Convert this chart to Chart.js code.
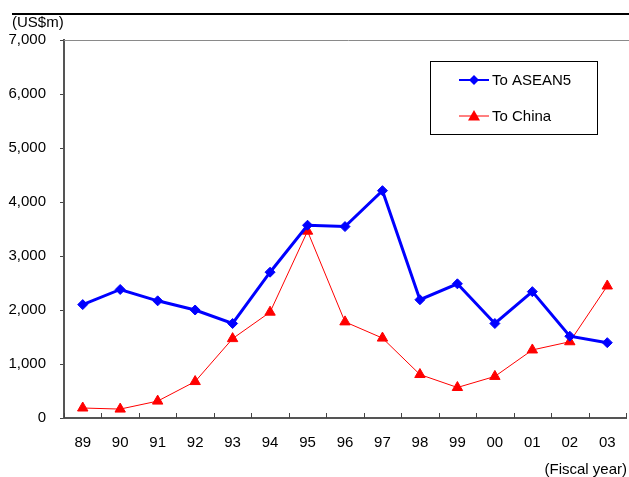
<!DOCTYPE html>
<html>
<head>
<meta charset="utf-8">
<script src="https://cdn.jsdelivr.net/npm/chart.js@4/dist/chart.umd.min.js"></script>
<style>
  html, body { margin: 0; padding: 0; overflow: hidden; background: #fff; }
  #wrap { width: 633px; height: 477px; }
</style>
</head>
<body>
<div id="wrap"><canvas id="c" width="633" height="477"></canvas></div>
<script>
// Fiscal years and outward investment (US$m)
const years = ['89','90','91','92','93','94','95','96','97','98','99','00','01','02','03'];
const toAsean5 = [2100, 2380, 2170, 2000, 1750, 2700, 3570, 3545, 4210, 2190, 2485, 1750, 2340, 1515, 1395];
const toChina  = [185, 165, 313, 675, 1470, 1960, 3460, 1780, 1480, 805, 565, 770, 1260, 1412, 2445];
const yTicks = [0, 1000, 2000, 3000, 4000, 5000, 6000, 7000];
const seriesNames = ['To ASEAN5', 'To China'];

const FONT = 'Liberation Sans, Arial, sans-serif';
const FSIZE = 15;

const decor = {
  id: 'decor',
  afterDraw(chart) {
    const ctx = chart.ctx;
    const area = chart.chartArea;
    const xs = chart.scales.x;
    ctx.save();
    // heavy rule above the chart
    ctx.strokeStyle = '#000';
    ctx.lineWidth = 2;
    ctx.beginPath(); ctx.moveTo(12, 14); ctx.lineTo(633, 14); ctx.stroke();
    // plot top frame
    ctx.strokeStyle = '#8a8a8a';
    ctx.lineWidth = 1;
    ctx.beginPath(); ctx.moveTo(area.left, area.top + 0.5); ctx.lineTo(633, area.top + 0.5); ctx.stroke();
    // inward tick marks at category boundaries
    ctx.strokeStyle = '#444';
    ctx.lineWidth = 1;
    for (let i = 0; i <= years.length; i++) {
      const x = Math.round(xs.getPixelForValue(i - 0.5)) + 0.5;
      ctx.beginPath(); ctx.moveTo(x, area.bottom); ctx.lineTo(x, area.bottom - 5); ctx.stroke();
    }
    // unit and axis captions
    ctx.fillStyle = '#000';
    ctx.font = FSIZE + 'px ' + FONT;
    ctx.textBaseline = 'middle';
    ctx.textAlign = 'left';
    ctx.fillText('(US$m)', 12, 23);
    ctx.textAlign = 'right';
    ctx.fillText('(Fiscal year)', 627, 470);
    // legend box
    const lx = 430, ly = 61, lw = 167, lh = 73;
    ctx.strokeStyle = '#000';
    ctx.lineWidth = 1;
    ctx.strokeRect(lx + 0.5, ly + 0.5, lw, lh);
    const rows = [
      { y: 80, ds: chart.data.datasets[0], lineW: 2 },
      { y: 116, ds: chart.data.datasets[1], lineW: 1 }
    ];
    rows.forEach((r, idx) => {
      ctx.strokeStyle = r.ds.borderColor;
      ctx.lineWidth = r.lineW;
      ctx.beginPath(); ctx.moveTo(459, r.y); ctx.lineTo(489, r.y); ctx.stroke();
      ctx.fillStyle = r.ds.pointBackgroundColor;
      ctx.beginPath();
      const s = r.ds.pointRadius;
      if (r.ds.pointStyle === 'triangle') {
        ctx.moveTo(474, r.y - s); ctx.lineTo(474 + s, r.y + s * 0.75); ctx.lineTo(474 - s, r.y + s * 0.75);
      } else {
        ctx.moveTo(474, r.y - s); ctx.lineTo(474 + s, r.y); ctx.lineTo(474, r.y + s); ctx.lineTo(474 - s, r.y);
      }
      ctx.closePath(); ctx.fill();
      ctx.fillStyle = '#000';
      ctx.textAlign = 'left';
      ctx.textBaseline = 'middle';
      ctx.font = FSIZE + 'px ' + FONT;
      ctx.fillText(seriesNames[idx], 492, r.y + 1);
    });
    ctx.restore();
  }
};

new Chart(document.getElementById('c'), {
  type: 'line',
  data: {
    labels: years,
    datasets: [
      {
        label: seriesNames[0],
        data: toAsean5,
        borderColor: '#0000ff',
        backgroundColor: '#0000ff',
        borderWidth: 3,
        pointStyle: 'rectRot',
        pointRadius: 5,
        pointBackgroundColor: '#0000ff',
        pointBorderColor: '#0000ff',
        pointBorderWidth: 1,
        tension: 0
      },
      {
        label: seriesNames[1],
        data: toChina,
        borderColor: '#ff0000',
        backgroundColor: '#ff0000',
        borderWidth: 1,
        pointStyle: 'triangle',
        pointRadius: 6,
        pointBackgroundColor: '#ff0000',
        pointBorderColor: '#ff0000',
        pointBorderWidth: 1,
        tension: 0
      }
    ]
  },
  options: {
    responsive: false,
    animation: false,
    devicePixelRatio: 1,
    layout: { padding: { left: 0, right: 2, top: 40, bottom: 0 } },
    plugins: { legend: { display: false }, tooltip: { enabled: false } },
    scales: {
      x: {
        type: 'category',
        offset: true,
        grid: { display: true, drawOnChartArea: false, drawTicks: false, offset: true },
        border: { display: true, color: '#555', width: 2 },
        ticks: { color: '#000', font: { family: FONT, size: FSIZE }, padding: 16, maxRotation: 0, autoSkip: false },
        afterFit(s) { s.height = 59; }
      },
      y: {
        min: 0,
        max: 7000,
        afterBuildTicks(s) { s.ticks = yTicks.map(v => ({ value: v })); },
        grid: { display: true, drawOnChartArea: false, drawTicks: true, tickLength: 4, color: '#444' },
        border: { display: true, color: '#555', width: 2 },
        ticks: {
          color: '#000',
          font: { family: FONT, size: FSIZE },
          padding: 14,
          callback: v => v.toLocaleString('en-US')
        },
        afterFit(s) { s.width = 64; }
      }
    }
  },
  plugins: [decor]
});
</script>
</body>
</html>
